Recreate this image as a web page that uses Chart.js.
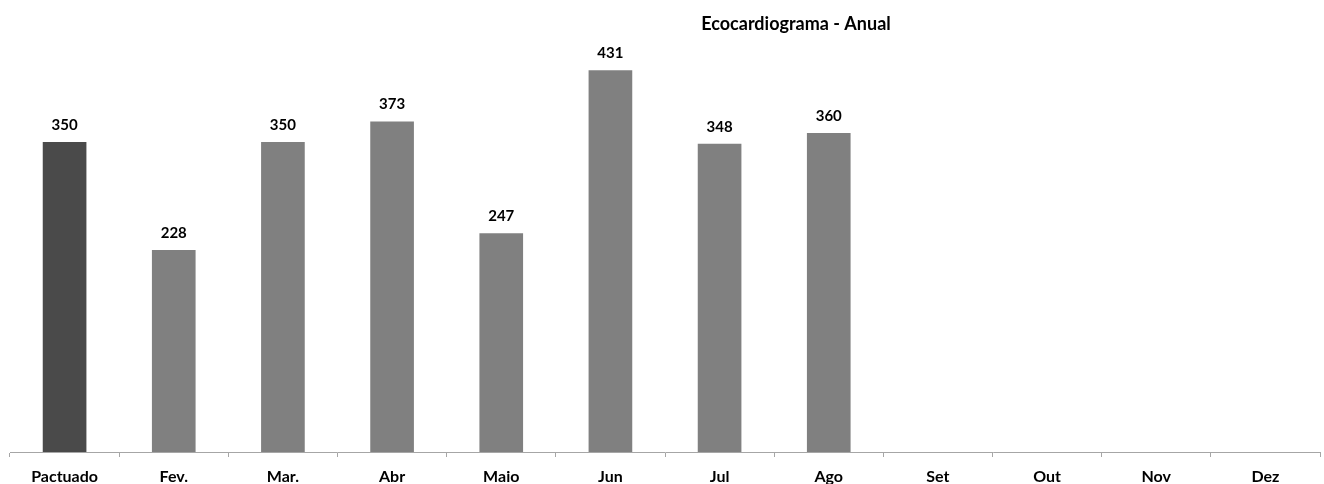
<!DOCTYPE html>
<html><head><meta charset="utf-8">
<script src="https://cdn.jsdelivr.net/npm/chart.js@4"></script>
<style>html,body{margin:0;padding:0;background:#fff}#wrap{width:1324px;height:484px}</style>
</head><body><div id="wrap"><canvas id="c" width="1324" height="484"></canvas></div>
<script>
const categories = ['Pactuado','Fev.','Mar.','Abr','Maio','Jun','Jul','Ago','Set','Out','Nov','Dez'];
const values = [350,228,350,373,247,431,348,360,null,null,null,null];
const barColors = ['#4a4a4a','#808080','#808080','#808080','#808080','#808080','#808080','#808080','#808080','#808080','#808080','#808080'];
const titleText = 'Ecocardiograma - Anual';
const FONT = 'Lato, Calibri, "Open Sans", sans-serif';

const labelPlugin = {
  id: 'labels',
  afterDatasetsDraw(chart) {
    const ctx = chart.ctx;
    const meta = chart.getDatasetMeta(0);
    ctx.save();
    ctx.font = 'bold 15px ' + FONT;
    ctx.fillStyle = '#000';
    ctx.textAlign = 'center';
    ctx.textBaseline = 'middle';
    meta.data.forEach((bar, i) => {
      if (values[i] == null) return;
      ctx.fillText(String(values[i]), bar.x, bar.y - 17);
    });
    ctx.font = 'bold 18px ' + FONT;
    ctx.fillText(titleText, 796, 24.5);
    ctx.restore();
  }
};

new Chart(document.getElementById('c'), {
  type: 'bar',
  data: { labels: categories, datasets: [{ data: values, backgroundColor: barColors, categoryPercentage: 1, barPercentage: 0.4 }] },
  options: {
    responsive: false, animation: false,
    layout: { padding: { left: 10, right: 4, top: 9, bottom: 0 } },
    plugins: { legend: { display: false }, tooltip: { enabled: false }, title: { display: false } },
    scales: {
      y: { display: false, min: 0, max: 500 },
      x: {
        offset: true,
        afterFit(scale) { scale.height = 32; },
        grid: { display: true, drawOnChartArea: false, offset: true, color: '#a6a6a6', tickLength: 5, tickColor: '#a6a6a6' },
        border: { display: true, color: '#a6a6a6', width: 1 },
        ticks: { color: '#000', font: { family: FONT, size: 16, weight: 'bold' }, padding: 10, maxRotation: 0, autoSkip: false }
      }
    }
  },
  plugins: [labelPlugin]
});
</script></body></html>
